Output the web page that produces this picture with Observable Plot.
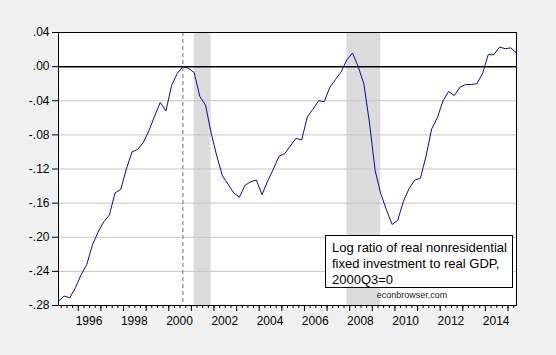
<!DOCTYPE html>
<html>
<head>
<meta charset="utf-8">
<script src="https://cdn.jsdelivr.net/npm/d3@7"></script>
<script src="https://cdn.jsdelivr.net/npm/@observablehq/plot@0.6"></script>
<style>
  html, body { margin: 0; padding: 0; background: #f0f0f0; }
  #wrap { position: relative; width: 556px; height: 355px; font-family: "Liberation Sans", Arial, sans-serif; }
  #legend { position: absolute; left: 325px; top: 235px; width: 186px; height: 51px; background: #fff; border: 1px solid #000;
            font-size: 13px; line-height: 16px; padding: 0; box-sizing: content-box; color: #000; }
  #legend div { position: absolute; left: 6px; white-space: nowrap; }
  #credit { position: absolute; left: 362px; top: 290px; width: 100px; text-align: center; font-size: 9px; color: #222; }
</style>
</head>
<body>
<div id="wrap"></div>
<script>
// Data: log ratio of real nonresidential fixed investment to real GDP, 2000Q3=0, quarterly 1995Q1-2015Q2
const startYear = 1995;
const values = [
  -0.275, -0.269, -0.271, -0.259,
  -0.244, -0.232, -0.209, -0.194,
  -0.182, -0.174, -0.148, -0.144,
  -0.120, -0.100, -0.097, -0.089,
  -0.075, -0.058, -0.042, -0.052,
  -0.022, -0.008,  0.000, -0.002,
  -0.007, -0.035, -0.045, -0.078,
  -0.105, -0.128, -0.138, -0.148,
  -0.153, -0.139, -0.135, -0.133,
  -0.150, -0.134, -0.120, -0.105,
  -0.102, -0.093, -0.084, -0.086,
  -0.059, -0.050, -0.040, -0.041,
  -0.024, -0.015, -0.006,  0.008,
   0.016,  0.000, -0.020, -0.066,
  -0.122, -0.149, -0.168, -0.185,
  -0.180, -0.158, -0.143, -0.133,
  -0.131, -0.105, -0.073, -0.060,
  -0.040, -0.029, -0.034, -0.024,
  -0.021, -0.021, -0.020, -0.008,
   0.014,  0.014,  0.023,  0.021,
   0.022,  0.016
];
const quarters = values.map((_, i) => `${startYear + Math.floor(i / 4)}Q${(i % 4) + 1}`);
const recessions = [
  {start: "2001Q1", end: "2001Q4"},
  {start: "2007Q4", end: "2009Q2"}
];
const referenceQuarter = "2000Q3";
const yTicks = [-0.28, -0.24, -0.20, -0.16, -0.12, -0.08, -0.04, 0.00, 0.04];
const yearLabels = [1996, 1998, 2000, 2002, 2004, 2006, 2008, 2010, 2012, 2014];
const legendLines = ["Log ratio of real nonresidential", "fixed investment to real GDP,", "2000Q3=0"];
const creditText = "econbrowser.com";

const qt = q => +q.slice(0, 4) + (+q.slice(5) - 1) / 4;
const data = values.map((v, i) => ({t: qt(quarters[i]), v}));
const tMin = qt(quarters[0]), tMax = qt(quarters[quarters.length - 1]);
const boundaries = d3.range(quarters.length + 1).map(k => tMin + (k - 0.5) / 4).filter(t => t > tMin && t < tMax);
const yearBoundaries = boundaries.filter(t => Math.abs(((t + 0.125) % 1)) < 1e-6 || Math.abs(((t + 0.125) % 1) - 1) < 1e-6);
const fmt = d => (d < 0 ? "-" : "") + Math.abs(d).toFixed(2).slice(1);

const chart = Plot.plot({
  width: 556,
  height: 355,
  marginLeft: 58,
  marginRight: 40,
  marginTop: 32,
  marginBottom: 50,
  style: {background: "transparent", fontFamily: "'Liberation Sans', Arial, sans-serif", fontSize: "12px", color: "#000", overflow: "visible"},
  x: {domain: [tMin, tMax]},
  y: {domain: [-0.28, 0.04]},
  marks: [
    Plot.frame({fill: "#fff", stroke: "none"}),
    Plot.rect(recessions, {x1: d => qt(d.start), x2: d => qt(d.end), y1: -0.28, y2: 0.04, fill: "#dcdcdc"}),
    Plot.ruleY(yTicks.filter(d => d !== 0 && d > -0.28 && d < 0.04), {stroke: "#c4c4c4", strokeWidth: 1}),
    Plot.ruleY([0], {stroke: "#000", strokeWidth: 1.5}),
    Plot.ruleX([qt(referenceQuarter)], {stroke: "#707070", strokeDasharray: "4,3", strokeWidth: 1}),
    Plot.line(data, {x: "t", y: "v", stroke: "#0a0a9a", strokeWidth: 1}),
    Plot.frame({stroke: "#000", strokeWidth: 1}),
    Plot.axisY({ticks: yTicks, tickSize: 6, tickPadding: 3, tickFormat: fmt, label: null, stroke: "#000"}),
    Plot.axisX({ticks: boundaries, tickSize: 3, tickFormat: () => "", label: null, stroke: "#000"}),
    Plot.axisX({ticks: yearBoundaries, tickSize: 6, tickFormat: () => "", label: null, stroke: "#000"}),
    Plot.axisX({ticks: yearLabels.map(y => y + 0.35), tickSize: 0, tickPadding: 11, tickFormat: d => String(Math.floor(d)), label: null})
  ]
});

const wrap = document.getElementById("wrap");
wrap.appendChild(chart);
const legend = document.createElement("div");
legend.id = "legend";
legendLines.forEach((l, i) => {
  const d = document.createElement("div");
  d.textContent = l;
  d.style.top = (4 + i * 16) + "px";
  legend.appendChild(d);
});
wrap.appendChild(legend);
const credit = document.createElement("div");
credit.id = "credit";
credit.textContent = creditText;
wrap.appendChild(credit);
</script>
</body>
</html>
